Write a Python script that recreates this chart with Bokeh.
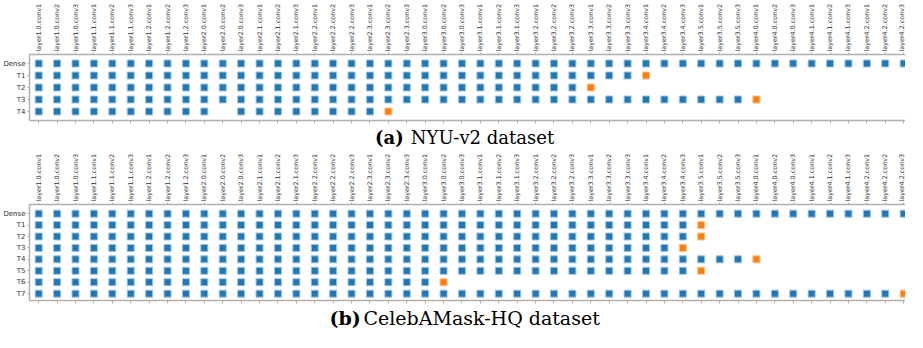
import math
from bokeh.plotting import figure
from bokeh.models import Range1d, FixedTicker, LinearAxis
from bokeh.core.properties import value
from bokeh.layouts import column
from bokeh.embed import file_html
from bokeh.resources import INLINE

# ---------------- data ----------------
layers = [
    "layer1.0.conv1", "layer1.0.conv2", "layer1.0.conv3",
    "layer1.1.conv1", "layer1.1.conv2", "layer1.1.conv3",
    "layer1.2.conv1", "layer1.2.conv2", "layer1.2.conv3",
    "layer2.0.conv1", "layer2.0.conv2", "layer2.0.conv3",
    "layer2.1.conv1", "layer2.1.conv2", "layer2.1.conv3",
    "layer2.2.conv1", "layer2.2.conv2", "layer2.2.conv3",
    "layer2.3.conv1", "layer2.3.conv2", "layer2.3.conv3",
    "layer3.0.conv1", "layer3.0.conv2", "layer3.0.conv3",
    "layer3.1.conv1", "layer3.1.conv2", "layer3.1.conv3",
    "layer3.2.conv1", "layer3.2.conv2", "layer3.2.conv3",
    "layer3.3.conv1", "layer3.3.conv2", "layer3.3.conv3",
    "layer3.4.conv1", "layer3.4.conv2", "layer3.4.conv3",
    "layer3.5.conv1", "layer3.5.conv2", "layer3.5.conv3",
    "layer4.0.conv1", "layer4.0.conv2", "layer4.0.conv3",
    "layer4.1.conv1", "layer4.1.conv2", "layer4.1.conv3",
    "layer4.2.conv1", "layer4.2.conv2", "layer4.2.conv3",
]

# NYU-v2: index of the layer where each task branches off (orange), None = no branch
nyu_tasks = ["Dense", "T1", "T2", "T3", "T4"]
nyu_branch = [None, 33, 30, 39, 19]
nyu_skip = [[], [], [], [], [10]]

# CelebAMask-HQ
celeba_tasks = ["Dense", "T1", "T2", "T3", "T4", "T5", "T6", "T7"]
celeba_branch = [None, 36, 36, 35, 39, 36, 22, 47]
celeba_skip = [[], [], [], [], [], [], [], []]

captions = [("(a)", "NYU-v2 dataset"), ("(b)", "CelebAMask-HQ dataset")]

BLUE, BLUE_EDGE = "#1f77b4", "#9cc3e2"
ORANGE, ORANGE_EDGE = "#ff7f0e", "#ffc08a"
SPINE = "#b0b0b0"
TXT = "#333333"
W = 905


def build(branch, skip):
    bx, by, ox, oy = [], [], [], []
    for r, (b, s) in enumerate(zip(branch, skip)):
        end = len(layers) if b is None else b
        for c in range(end):
            if c not in s:
                bx.append(c)
                by.append(r)
        if b is not None:
            ox.append(b)
            oy.append(r)
    return bx, by, ox, oy


def panel(tasks, branch, skip, top, frame_h, bottom, y_lo, y_hi):
    p = figure(width=W, height=top + frame_h + bottom, output_backend="svg",
               toolbar_location=None,
               x_range=Range1d(-0.5, 47.1), y_range=Range1d(y_hi, y_lo),
               x_axis_location="above", y_axis_location="left",
               min_border_left=26, min_border_right=0, min_border_top=top,
               min_border_bottom=bottom)
    p.outline_line_color = None
    p.xgrid.visible = False
    p.ygrid.visible = False

    ticks = list(range(len(layers)))
    ax = p.xaxis[0]
    ax.ticker = FixedTicker(ticks=ticks)
    ax.major_label_overrides = {i: n for i, n in enumerate(layers)}
    ax.major_label_orientation = math.pi / 2
    ax.major_label_text_font = "DejaVu Sans"
    ax.major_label_text_font_size = "6.4px"
    ax.major_label_text_color = TXT
    ax.major_label_standoff = 1
    ax.major_tick_out = 2
    ax.major_tick_in = 0
    ax.minor_tick_out = 0
    ax.minor_tick_in = 0
    ax.axis_line_color = SPINE
    ax.axis_line_width = 1.5
    ax.major_tick_line_color = SPINE

    bax = LinearAxis(ticker=FixedTicker(ticks=ticks),
                     major_label_overrides={i: "" for i in ticks},
                     major_label_text_font_size="1px", major_label_standoff=0,
                     major_tick_out=3, major_tick_in=0, minor_tick_out=0, minor_tick_in=0,
                     axis_line_color=SPINE, axis_line_width=1.5, major_tick_line_color=SPINE)
    p.add_layout(bax, "below")

    ya = p.yaxis[0]
    ya.ticker = FixedTicker(ticks=list(range(len(tasks))))
    ya.major_label_overrides = {i: t for i, t in enumerate(tasks)}
    ya.major_label_text_font = "DejaVu Sans"
    ya.major_label_text_font_size = "7px"
    ya.major_label_text_color = TXT
    ya.major_label_standoff = 2
    ya.major_tick_out = 2
    ya.major_tick_in = 0
    ya.minor_tick_out = 0
    ya.minor_tick_in = 0
    ya.axis_line_color = SPINE
    ya.axis_line_width = 1.5
    ya.major_tick_line_color = SPINE

    bx, by, ox, oy = build(branch, skip)
    p.scatter(bx, by, marker="square", size=7, fill_color=BLUE,
              line_color=BLUE_EDGE, line_width=1)
    p.scatter(ox, oy, marker="square", size=7, fill_color=ORANGE,
              line_color=ORANGE_EDGE, line_width=1)
    return p


def caption(bold, text, h, x_bold, x_text, mid, size):
    c = figure(width=W, height=h, output_backend="svg", toolbar_location=None,
               x_range=Range1d(0, W), y_range=Range1d(0, h),
               x_axis_location=None, y_axis_location=None,
               min_border=0, min_border_left=0, min_border_right=0,
               min_border_top=0, min_border_bottom=0)
    c.outline_line_color = None
    c.xgrid.visible = False
    c.ygrid.visible = False
    c.text(x=[x_bold], y=[mid], text=[bold], text_font=value("DejaVu Serif"),
           text_font_style="bold", text_font_size=size, text_color="#000000",
           text_baseline="middle", text_align="left")
    c.text(x=[x_text], y=[mid], text=[text], text_font=value("DejaVu Serif"),
           text_font_size=size, text_color="#000000",
           text_baseline="middle", text_align="left")
    return c


p1 = panel(nyu_tasks, nyu_branch, nyu_skip, 51, 69, 4, -0.75, 4.75)
c1 = caption(captions[0][0], captions[0][1], 26, 357, 394, 13, "18px")
p2 = panel(celeba_tasks, celeba_branch, celeba_skip, 51, 99, 4, -0.8, 7.6)
c2 = caption(captions[1][0], captions[1][1], 26, 310, 345, 13, "19px")

layout = column(p1, c1, p2, c2, spacing=0)
open("out.html", "w").write(file_html(layout, INLINE))
